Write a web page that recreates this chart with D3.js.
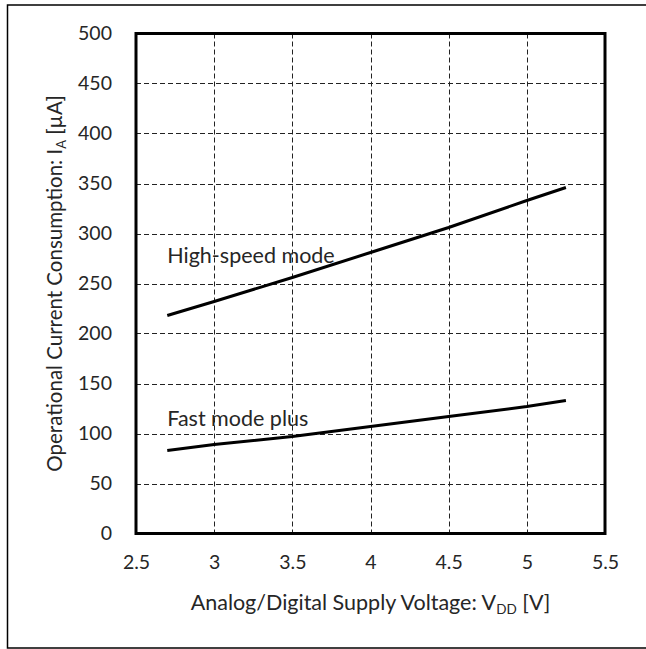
<!DOCTYPE html>
<html>
<head>
<meta charset="utf-8">
<script src="https://cdn.jsdelivr.net/npm/d3@7"></script>
<style>
  html, body { margin: 0; padding: 0; background: #fff; }
  svg text { font-family: Lato, "Open Sans", sans-serif; fill: #262626; }
</style>
</head>
<body>
<svg id="chart" width="646" height="649"></svg>
<script>
// Supply voltage (V) and operating current (µA) for each bus mode
const highSpeedV = [2.7, 3.0, 3.5, 4.0, 4.5, 5.0, 5.25];
const highSpeedI = [218, 232, 256, 281, 306, 333, 346];
const fastPlusV = [2.7, 3.0, 3.5, 4.0, 4.5, 5.0, 5.25];
const fastPlusI = [83, 89, 97, 107, 117, 127, 133];
const xTicks = [2.5, 3, 3.5, 4, 4.5, 5, 5.5];
const yTicks = [0, 50, 100, 150, 200, 250, 300, 350, 400, 450, 500];
const seriesLabels = ["High-speed mode", "Fast mode plus"];

const svg = d3.select("#chart");
const tickFont = 19.5;
const textFont = 21.5;

// outer frame
svg.append("rect")
  .attr("x", 7.5).attr("y", 5).attr("width", 650).attr("height", 643)
  .attr("fill", "none").attr("stroke", "#000").attr("stroke-width", 1.5);

const plot = { left: 136, right: 605, top: 33.5, bottom: 533.5 };
const x = d3.scaleLinear().domain([2.5, 5.5]).range([plot.left, plot.right]);
const y = d3.scaleLinear().domain([0, 500]).range([plot.bottom, plot.top]);

// dashed grid
const grid = svg.append("g").attr("stroke", "#222").attr("stroke-width", 1)
  .attr("stroke-dasharray", "5,3");
grid.selectAll("line.h").data(yTicks.slice(1, -1)).join("line")
  .attr("x1", plot.left).attr("x2", plot.right)
  .attr("y1", d => Math.round(y(d)) + 0.5).attr("y2", d => Math.round(y(d)) + 0.5);
grid.selectAll("line.v").data(xTicks.slice(1, -1)).join("line")
  .attr("y1", plot.top).attr("y2", plot.bottom)
  .attr("x1", d => Math.round(x(d)) + 0.5).attr("x2", d => Math.round(x(d)) + 0.5);

// axes (labels only, frame drawn separately)
const yAxis = svg.append("g").attr("transform", `translate(${plot.left},0)`)
  .call(d3.axisLeft(y).tickValues(yTicks).tickSize(0).tickPadding(24));
const xAxis = svg.append("g").attr("transform", `translate(0,${plot.bottom})`)
  .call(d3.axisBottom(x).tickValues(xTicks).tickSize(0).tickPadding(22).tickFormat(d3.format("")));
[yAxis, xAxis].forEach(a => {
  a.select(".domain").remove();
  a.selectAll("text").attr("font-size", tickFont)
    .attr("font-family", "Lato, 'Open Sans', sans-serif").attr("fill", "#262626");
});

// plot border
svg.append("rect")
  .attr("x", plot.left).attr("y", plot.top)
  .attr("width", plot.right - plot.left).attr("height", plot.bottom - plot.top)
  .attr("fill", "none").attr("stroke", "#000").attr("stroke-width", 3);

// series lines
const line = d3.line().x(d => x(d[0])).y(d => y(d[1]));
[[highSpeedV, highSpeedI], [fastPlusV, fastPlusI]].forEach(([vs, is]) => {
  svg.append("path")
    .datum(vs.map((v, i) => [v, is[i]]))
    .attr("d", line)
    .attr("fill", "none").attr("stroke", "#000").attr("stroke-width", 3);
});

// series labels
svg.append("text").attr("x", x(2.7)).attr("y", y(271))
  .attr("font-size", textFont).text(seriesLabels[0]);
svg.append("text").attr("x", x(2.7)).attr("y", y(108))
  .attr("font-size", textFont).text(seriesLabels[1]);

// axis titles
const xt = svg.append("text").attr("x", (plot.left + plot.right) / 2).attr("y", 610)
  .attr("text-anchor", "middle").attr("font-size", 21.5);
xt.append("tspan").text("Analog/Digital Supply Voltage: V");
xt.append("tspan").attr("font-size", 13.5).attr("dy", 4).text("DD");
xt.append("tspan").attr("dy", -4).text(" [V]");

const yt = svg.append("text")
  .attr("transform", `translate(62,${(plot.top + plot.bottom) / 2}) rotate(-90)`)
  .attr("text-anchor", "middle").attr("font-size", 20.5);
yt.append("tspan").text("Operational Current Consumption: I");
yt.append("tspan").attr("font-size", 13).attr("dy", 4).text("A");
yt.append("tspan").attr("dy", -4).text(" [µA]");
</script>
</body>
</html>
